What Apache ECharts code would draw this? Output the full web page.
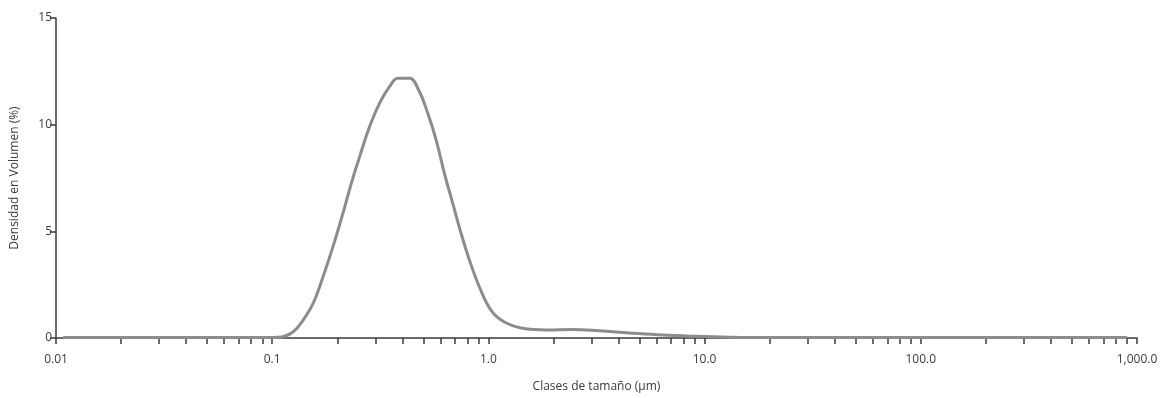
<!DOCTYPE html>
<html>
<head>
<meta charset="utf-8">
<script src="https://cdn.jsdelivr.net/npm/echarts@6/dist/echarts.min.js"></script>
<style>
  html, body { margin: 0; padding: 0; background: #fff; }
  #chart { width: 1168px; height: 398px; }
</style>
</head>
<body>
<div id="chart"></div>
<script>
// particle size (µm) and volume density (%)
const sizes = [
  0.0108, 0.015, 0.02, 0.03, 0.05, 0.07, 0.09, 0.1, 0.105,
  0.1122, 0.1248, 0.1388, 0.1544, 0.1717, 0.1909, 0.2123, 0.2322, 0.2536,
  0.282, 0.3136, 0.3488, 0.3811, 0.4316, 0.48, 0.5243, 0.5733, 0.6263,
  0.6841, 0.7478, 0.8171, 0.9087, 1.029, 1.186, 1.44, 1.85, 2.45, 3.26,
  4.48, 6.38, 9.1, 13, 20, 50, 150, 400, 900
]
const volume = [
  0.02, 0.02, 0.02, 0.02, 0.02, 0.02, 0.02, 0.02, 0.03,
  0.06, 0.28, 0.83, 1.61, 2.86, 4.27, 5.84, 7.25, 8.49,
  9.9, 11.0, 11.78, 12.17, 12.17, 11.54, 10.53, 9.28, 7.71,
  6.31, 4.9, 3.65, 2.39, 1.3, 0.75, 0.46, 0.38, 0.4, 0.34,
  0.24, 0.14, 0.08, 0.04, 0.02, 0.02, 0.02, 0.02, 0.02
]

const xTicks = [0.01, 0.1, 1, 10, 100, 1000]
const xTickLabels = ['0.01', '0.1', '1.0', '10.0', '100.0', '1,000.0']
const yTicks = [0, 5, 10, 15]

// ticks at 2..9 inside each decade, plus the decades
let allTicks = []
for (let i = 0; i < xTicks.length; i++) {
  allTicks.push(xTicks[i])
  if (i < xTicks.length - 1) {
    for (let k = 2; k <= 9; k++) allTicks.push(xTicks[i] * k)
  }
}

const textColor = '#3a3a3a'
const axisColor = '#3a3a3a'
const font = '"Open Sans", "Noto Sans", sans-serif'

let myChart = echarts.init(document.getElementById('chart'), null, { renderer: 'canvas' })
myChart.setOption({
  backgroundColor: '#ffffff',
  animation: false,
  grid: { left: 56, right: 31, top: 18, bottom: 59 },
  xAxis: {
    type: 'log',
    logBase: 10,
    min: 0.01,
    max: 1000,
    name: 'Clases de tamaño (µm)',
    nameLocation: 'middle',
    nameGap: 43,
    nameTextStyle: { color: textColor, fontSize: 12, fontFamily: font },
    axisLine: { lineStyle: { color: axisColor, width: 1.5 } },
    axisTick: {
      show: true,
      length: 6,
      inside: false,
      customValues: allTicks,
      lineStyle: { color: axisColor, width: 1.5 }
    },
    minorTick: { show: false },
    splitLine: { show: false },
    axisLabel: {
      customValues: xTicks,
      margin: 16,
      color: textColor,
      fontSize: 12,
      fontFamily: font,
      formatter: v => xTickLabels[Math.round(Math.log10(v)) + 2]
    }
  },
  yAxis: {
    type: 'value',
    min: 0,
    max: 15,
    interval: 5,
    name: 'Densidad en Volumen (%)',
    nameLocation: 'middle',
    nameGap: 35,
    nameTextStyle: { color: textColor, fontSize: 12, fontFamily: font },
    axisLine: { show: true, lineStyle: { color: axisColor, width: 1.5 } },
    axisTick: { show: true, length: 6, lineStyle: { color: axisColor, width: 1.5 } },
    splitLine: { show: false },
    axisLabel: {
      customValues: yTicks,
      margin: 4,
      color: textColor,
      fontSize: 12,
      fontFamily: font
    }
  },
  series: [{
    type: 'line',
    data: sizes.map((s, i) => [s, volume[i]]),
    showSymbol: false,
    smooth: 0.4,
    lineStyle: { color: '#8c8c8c', width: 3 },
    z: 1
  }]
})
</script>
</body>
</html>
